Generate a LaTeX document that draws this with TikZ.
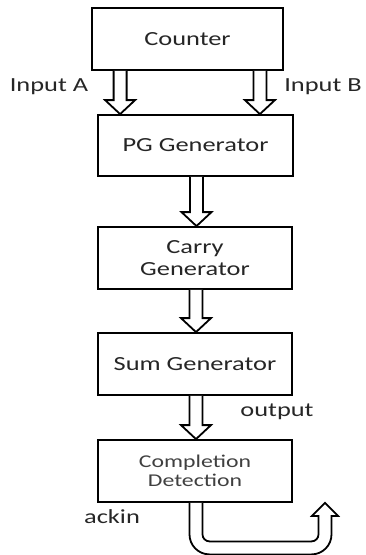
\documentclass[tikz,border=0pt]{standalone}
\usepackage{fontspec}
\setmainfont{Carlito}[FakeStretch=1.32]
\usetikzlibrary{calc}
\tikzset{
  blk/.style={draw, line width=1.8pt, inner sep=0pt, minimum width=194pt, minimum height=62pt,
    align=center, font=\fontsize{20}{22}\selectfont, text=black!85},
  lbl/.style={inner sep=0pt, font=\fontsize{20}{22}\selectfont, text=black!85},
  fatarrow/.style={draw, fill=white, line width=1.8pt, line join=miter}
}
\newcommand\fatdown[2]{%
  \draw[fatarrow] let \p1=(#1), \p2=(#2) in
    (\x1-6.5pt,\y1) -- (\x1-6.5pt,\y2+14pt) -- (\x1-15pt,\y2+14pt) -- (\x1,\y2)
    -- (\x1+15pt,\y2+14pt) -- (\x1+6.5pt,\y2+14pt) -- (\x1+6.5pt,\y1);
}
\begin{document}
\begin{tikzpicture}[x=1pt,y=-1pt]
\useasboundingbox (0,0) rectangle (366,555);
\node[blk, minimum width=191pt] (counter) at (187.5,39) {Counter};
\node[blk, minimum width=195pt, minimum height=61pt] (pg) at (195.5,145.5) {PG Generator};
\node[blk] (carry) at (195,258) {Carry\\Generator};
\node[blk] (sum) at (195,364) {Sum Generator};
\node[blk, font=\fontsize{18}{19.5}\selectfont, text=black!75] (cd) at (195,471) {Completion\\Detection};

\node[lbl] (ina) at (49,87) {Input A};
\node[lbl] (inb) at (323,87) {Input B};
\node[lbl] (out) at (277,412) {output};
\node[lbl] (ack) at (112,517) {ackin};

\coordinate (a1) at ($(counter.south west)+(29,0)$);
\coordinate (b1) at ($(counter.south east)+(-24,0)$);
\fatdown{a1}{a1 |- pg.north}
\fatdown{b1}{b1 |- pg.north}
\coordinate (c1) at ($(pg.south)+(1,0)$);
\fatdown{c1}{c1 |- carry.north}
\coordinate (d1) at ($(carry.south)+(1,0)$);
\fatdown{d1}{d1 |- sum.north}
\coordinate (e1) at ($(sum.south)+(1,0)$);
\fatdown{e1}{e1 |- cd.north}

\coordinate (u) at ($(cd.south)+(1,0)$);
\draw[fatarrow] let \p1=(u) in
  (\x1-6.5pt,\y1) -- (\x1-6.5pt,\y1-31.5pt)
  arc[start angle=180, end angle=270, radius=20pt]
  -- (\x1+115.5pt,\y1-51.5pt)
  arc[start angle=270, end angle=360, radius=20pt]
  -- (\x1+135.5pt,\y1-13pt) -- (\x1+142pt,\y1-13pt) -- (\x1+129pt,\y1)
  -- (\x1+116pt,\y1-13pt) -- (\x1+122.5pt,\y1-13pt) -- (\x1+122.5pt,\y1-31.5pt)
  arc[start angle=0, end angle=-90, radius=7pt]
  -- (\x1+13.5pt,\y1-38.5pt)
  arc[start angle=270, end angle=180, radius=7pt]
  -- (\x1+6.5pt,\y1);
\end{tikzpicture}
\end{document}
